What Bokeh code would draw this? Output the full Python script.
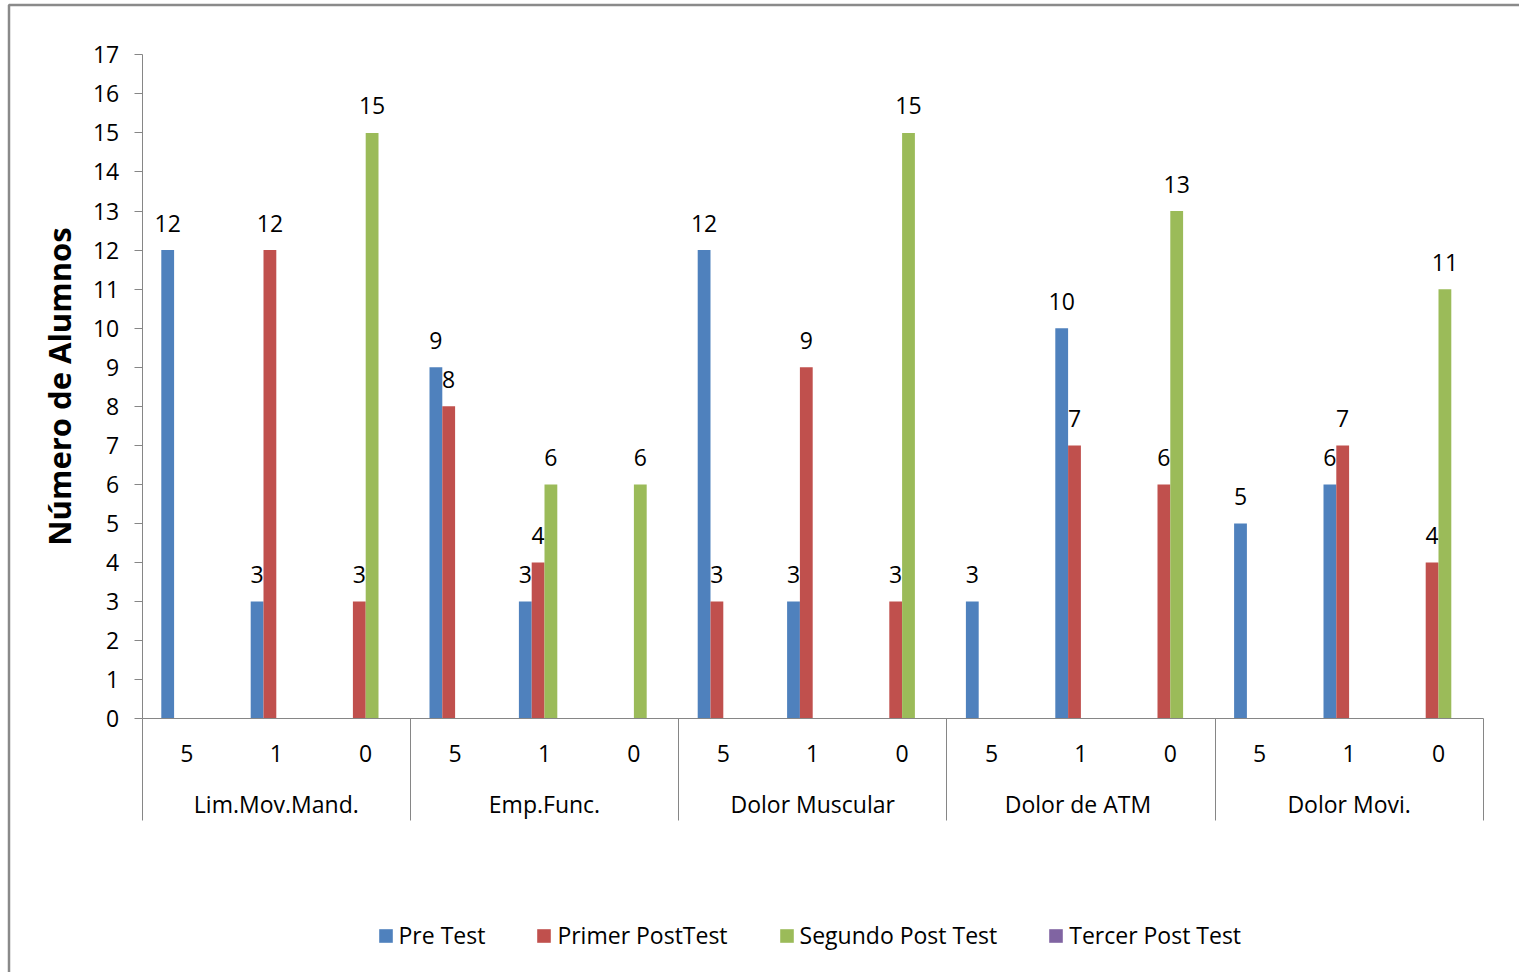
import math
from bokeh.plotting import figure
from bokeh.models import Range1d, LinearAxis, FixedTicker, Legend, LegendItem
from bokeh.core.properties import value
from bokeh.embed import file_html
from bokeh.resources import INLINE

# ---------------- data ----------------
groups = ["Lim.Mov.Mand.", "Emp.Func.", "Dolor Muscular", "Dolor  de ATM", "Dolor Movi."]
levels = ["5", "1", "0"]
series_names = ["Pre Test", "Primer PostTest", "Segundo Post Test", "Tercer Post Test"]
pre_test = [12, 3, None, 9, 3, None, 12, 3, None, 3, 10, None, 5, 6, None]
primer_post = [None, 12, 3, 8, 4, None, 3, 9, 3, None, 7, 6, None, 7, 4]
segundo_post = [None, None, 15, None, 6, 6, None, None, 15, None, None, 13, None, None, 11]
tercer_post = [None] * 15
y_ticks = list(range(0, 18))
colors = ["#4F81BD", "#C0504D", "#9BBB59", "#8064A2"]

# ---------------- layout (pixels) ----------------
W, H = 1519, 972
AX_LEFT, AX_RIGHT = 141.7, 1482.7
Y0_PX, YTOP_PX = 718.3, 54.3
FONT = "Open Sans"
FS = "23px"
GRAY = "#868686"

n_slots = len(groups) * len(levels)
slot_px = (AX_RIGHT - AX_LEFT) / n_slots
unit_px = (Y0_PX - YTOP_PX) / y_ticks[-1]
x_start = -AX_LEFT / slot_px
x_end = n_slots + (W - AX_RIGHT) / slot_px
y_end = y_ticks[-1] + YTOP_PX / unit_px
y_start = -(H - Y0_PX) / unit_px


def px_x(px):
    return x_start + px / slot_px


def px_y(py):
    return y_end - py / unit_px


p = figure(width=W, height=H, x_range=Range1d(x_start, x_end),
           y_range=Range1d(y_start, y_end), output_backend="svg",
           toolbar_location=None, x_axis_location=None, y_axis_location=None,
           min_border=0, outline_line_color=None, background_fill_color="white",
           border_fill_color="white")
p.grid.visible = False

# chart border (top/left)
p.line(x=[px_x(8.5), px_x(8.5), px_x(W + 5)], y=[px_y(H + 5), px_y(4.5), px_y(4.5)],
       line_color="#8a8a8a", line_width=2.5)

# bars
bar_w = 12.8 / slot_px
centers = [i + 0.5 for i in range(n_slots)]
all_series = [pre_test, primer_post, segundo_post, tercer_post]
renderers = []
for k, (name, vals, col) in enumerate(zip(series_names, all_series, colors)):
    off = (k - 1.5) * bar_w
    xs = [c + off for c in centers]
    tops = [float("nan") if v is None else v for v in vals]
    r = p.vbar(x=xs, top=tops, bottom=0, width=bar_w, fill_color=col, line_color=None)
    renderers.append(r)
    lx = [x for x, v in zip(xs, vals) if v is not None]
    ly = [v for v in vals if v is not None]
    lt = [str(v) for v in vals if v is not None]
    if lt:
        p.text(x=lx, y=ly, text=lt, text_align="center", text_baseline="alphabetic",
               y_offset=-27, text_font=value(FONT), text_font_size=FS, text_color="black")

# y axis
yaxis = LinearAxis(fixed_location=0, bounds=(0, y_ticks[-1]), ticker=FixedTicker(ticks=y_ticks),
                   major_tick_out=8, major_tick_in=0, minor_tick_out=0, minor_tick_in=0,
                   axis_line_color=GRAY, major_tick_line_color=GRAY,
                   major_label_standoff=15, major_label_text_font=FONT,
                   major_label_text_font_size=FS, major_label_text_color="black",
                   axis_label="Número de Alumnos", axis_label_standoff=10,
                   axis_label_text_font=FONT, axis_label_text_font_size="31px",
                   axis_label_text_font_style="bold", axis_label_text_color="black")
p.add_layout(yaxis, "left")

# x axis line + group separators
sep_ticks = [g * len(levels) for g in range(len(groups) + 1)]
xaxis = LinearAxis(fixed_location=0, bounds=(0, n_slots), ticker=FixedTicker(ticks=sep_ticks),
                   major_tick_out=102, major_tick_in=0, minor_tick_out=0, minor_tick_in=0,
                   axis_line_color=GRAY, major_tick_line_color=GRAY,
                   major_label_text_color=None)
p.add_layout(xaxis, "below")

# category labels
sub_labels = [lv for _ in groups for lv in levels]
p.text(x=centers, y=[0] * n_slots, text=sub_labels, text_align="center",
       text_baseline="alphabetic", y_offset=35, text_font=value(FONT),
       text_font_size=FS, text_color="black")
gx = [g * len(levels) + len(levels) / 2 for g in range(len(groups))]
p.text(x=gx, y=[0] * len(groups), text=groups, text_align="center",
       text_baseline="alphabetic", y_offset=85, text_font=value(FONT),
       text_font_size=FS, text_color="black")

legend = Legend(items=[LegendItem(label=n, renderers=[r]) for n, r in zip(series_names, renderers)],
                orientation="horizontal", location=(376.5, 21), glyph_width=17, glyph_height=17,
                label_standoff=5, spacing=50, padding=0, margin=0, border_line_color=None,
                background_fill_alpha=0, label_text_font=FONT, label_text_font_size=FS,
                label_text_color="black")
p.add_layout(legend, "center")

open("out.html", "w").write(file_html(p, INLINE))
